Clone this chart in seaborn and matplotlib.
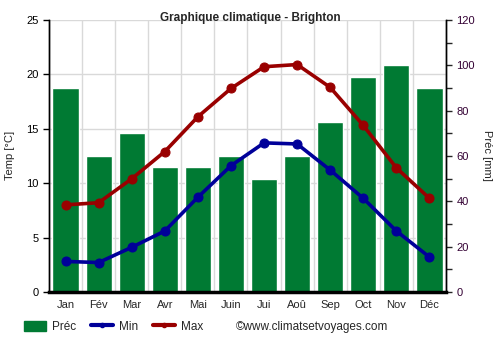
import matplotlib
matplotlib.use("Agg")
import matplotlib.pyplot as plt
import seaborn as sns
import pandas as pd
import numpy as np
from matplotlib.patches import Patch
from matplotlib.lines import Line2D

months = ["Jan", "Fév", "Mar", "Avr", "Mai", "Juin", "Jui", "Aoû", "Sep", "Oct", "Nov", "Déc"]
precip = [90, 60, 70, 55, 55, 60, 50, 60, 75, 95, 100, 90]
tmin = [2.8, 2.7, 4.1, 5.6, 8.7, 11.6, 13.7, 13.6, 11.2, 8.6, 5.6, 3.2]
tmax = [8.0, 8.2, 10.4, 12.9, 16.1, 18.7, 20.7, 20.9, 18.8, 15.3, 11.4, 8.6]

df = pd.DataFrame({"month": months, "precip": precip, "tmin": tmin, "tmax": tmax})

sns.set_style("white")
plt.rcParams["font.family"] = ["Liberation Sans", "DejaVu Sans"]

GREEN = "#007A33"
BLUE = "#000099"
RED = "#990000"
GRID = "#d9d9d9"

fig = plt.figure(figsize=(5, 3.5), dpi=100)
ax = fig.add_axes([0.098, 0.166, 0.794, 0.777])
ax2 = ax.twinx()

sns.barplot(data=df, x="month", y="precip", color=GREEN, saturation=1, width=0.79, ax=ax, zorder=2)
ax.set_ylim(0, 120)
ax.set_xlim(-0.5, 11.5)

temp_ticks = [0, 5, 10, 15, 20, 25]
for t in temp_ticks[1:]:
    ax.axhline(t * 120 / 25, color=GRID, lw=1, zorder=0)
for b in np.arange(-0.5, 12, 1):
    ax.axvline(b, color=GRID, lw=1, zorder=0)

sns.lineplot(x=np.arange(12), y=df["tmin"], ax=ax2, color=BLUE, lw=2.6, marker="o",
             markersize=6.5, markeredgecolor=BLUE, zorder=3)
sns.lineplot(x=np.arange(12), y=df["tmax"], ax=ax2, color=RED, lw=2.6, marker="o",
             markersize=6.5, markeredgecolor=RED, zorder=3)
ax2.set_ylim(0, 25)
ax2.set_xlim(-0.5, 11.5)

ax.yaxis.tick_right()
ax.yaxis.set_label_position("right")
ax2.yaxis.tick_left()
ax2.yaxis.set_label_position("left")

ax2.set_yticks(temp_ticks)
ax.set_yticks(range(0, 121, 20))
ax.set_yticks(range(0, 121, 10), minor=True)

fs = 8
ax2.tick_params(axis="y", labelsize=fs, length=4, width=1, direction="out", left=True, right=False,
                labelleft=True, labelright=False, colors="black")
ax.tick_params(axis="y", which="both", labelsize=fs, length=4, width=1, direction="out", right=True,
               left=False, labelright=True, labelleft=False)
ax.tick_params(axis="y", labelcolor="#330033")

ax.set_xticks(np.arange(-0.5, 12, 1))
ax.set_xticklabels([""] * 13)
ax.set_xticks(np.arange(12), minor=True)
ax.set_xticklabels(months, minor=True)
ax.tick_params(axis="x", which="major", length=4, width=1, bottom=True, direction="out")
ax.tick_params(axis="x", which="minor", length=0, labelsize=fs, pad=6)
ax2.set_xticks([])

ax.set_xlabel("")
ax.set_ylabel("Préc [mm]", fontsize=fs, rotation=270, labelpad=12)
ax2.set_ylabel("Temp [°C]", fontsize=fs, labelpad=8)
ax2.set_xlabel("")

for a in (ax, ax2):
    a.spines["top"].set_visible(False)
    a.spines["left"].set_color("black")
    a.spines["right"].set_color("black")
    a.spines["left"].set_linewidth(1)
    a.spines["right"].set_linewidth(1)
ax.spines["bottom"].set_color("black")
ax.spines["bottom"].set_linewidth(2.5)
ax2.spines["bottom"].set_visible(False)

fig.text(0.5, 0.949, "Graphique climatique - Brighton", fontsize=8.5, fontweight="bold",
         ha="center", va="center", zorder=10)
ax.set_zorder(1)
ax2.set_zorder(2)
ax2.patch.set_visible(False)

handles = [
    Patch(facecolor=GREEN, edgecolor=GREEN),
    Line2D([0], [0], color=BLUE, lw=3, marker="o", markersize=3),
    Line2D([0], [0], color=RED, lw=3, marker="o", markersize=3),
]
fig.legend(handles, ["Préc", "Min", "Max"], loc="center left", bbox_to_anchor=(0.048, 0.066),
           ncol=3, frameon=False, fontsize=8.5, handlelength=1.85, handleheight=1.0,
           columnspacing=1.3, handletextpad=0.5, borderpad=0, borderaxespad=0)
fig.text(0.472, 0.066, "©www.climatsetvoyages.com", fontsize=8.5, va="center", ha="left")

fig.savefig("out.png", dpi=100)
